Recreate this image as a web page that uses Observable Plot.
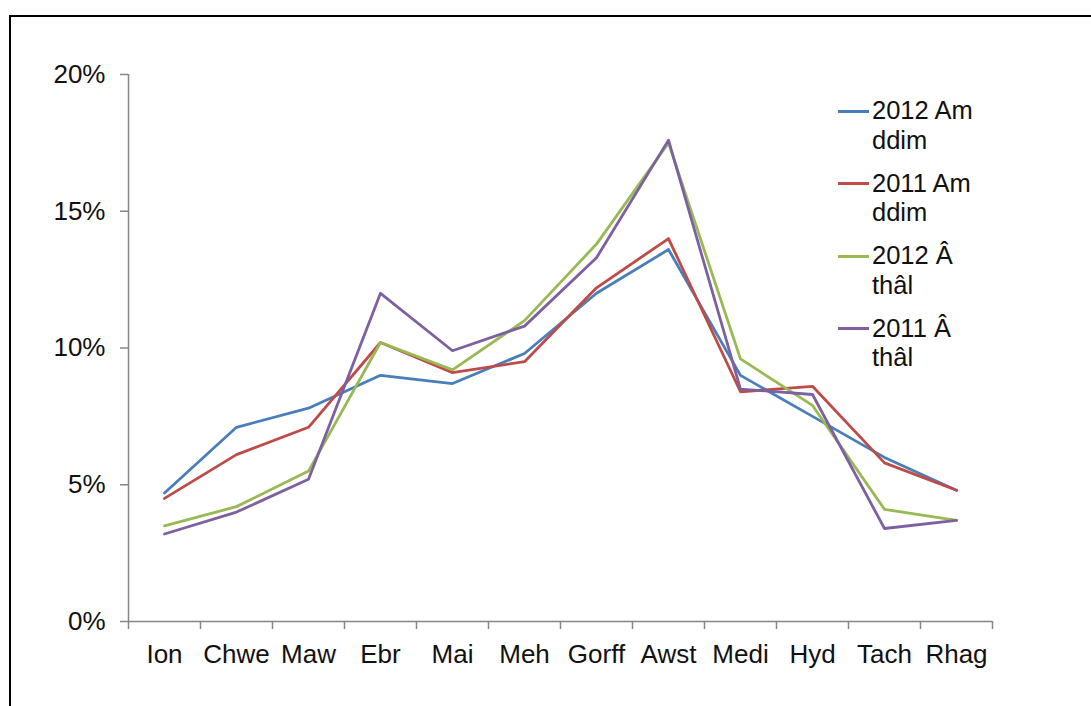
<!DOCTYPE html>
<html>
<head>
<meta charset="utf-8">
<script src="https://cdn.jsdelivr.net/npm/d3@7"></script>
<script src="https://cdn.jsdelivr.net/npm/@observablehq/plot@0.6"></script>
<style>
  html, body { margin: 0; padding: 0; background: #fff; }
  #wrap { position: relative; width: 1091px; height: 706px; overflow: hidden; font-family: "Liberation Sans", Arial, sans-serif; }
  #frame { position: absolute; left: 9px; top: 15px; width: 1100px; height: 720px; border-top: 2px solid #000; border-left: 2px solid #000; box-sizing: border-box; pointer-events: none; }
  #chart { position: absolute; left: 0; top: 0; }
  .leg { position: absolute; left: 838px; display: flex; align-items: flex-start; font-size: 25.5px; line-height: 29.5px; color: #111; }
  .leg .sw { width: 31px; height: 3px; margin-top: 13.5px; margin-right: 3px; flex: none; }
</style>
</head>
<body>
<div id="wrap">
  <div id="chart"></div>
  <div id="legend"></div>
  <div id="frame"></div>
</div>
<script>
const months = ["Ion", "Chwe", "Maw", "Ebr", "Mai", "Meh", "Gorff", "Awst", "Medi", "Hyd", "Tach", "Rhag"];
const seriesNames = ["2012 Am ddim", "2011 Am ddim", "2012 Â thâl", "2011 Â thâl"];
const legendLines = [["2012 Am", "ddim"], ["2011 Am", "ddim"], ["2012 Â", "thâl"], ["2011 Â", "thâl"]];
const colors = ["#4A7EBB", "#BE4B48", "#98B954", "#7D60A0"];
const am2012 = [4.7, 7.1, 7.8, 9.0, 8.7, 9.8, 12.0, 13.6, 9.0, 7.5, 6.0, 4.8];
const am2011 = [4.5, 6.1, 7.1, 10.2, 9.1, 9.5, 12.2, 14.0, 8.4, 8.6, 5.8, 4.8];
const thal2012 = [3.5, 4.2, 5.5, 10.2, 9.2, 11.0, 13.8, 17.5, 9.6, 7.9, 4.1, 3.7];
const thal2011 = [3.2, 4.0, 5.2, 12.0, 9.9, 10.8, 13.3, 17.6, 8.5, 8.3, 3.4, 3.7];
const yTicks = [0, 5, 10, 15, 20];

const seriesValues = [am2012, am2011, thal2012, thal2011];
const data = [];
seriesValues.forEach((vals, s) => vals.forEach((v, i) => data.push({series: seriesNames[s], i, value: v})));

const axisColor = "#868686";
const chart = Plot.plot({
  width: 1091,
  height: 706,
  marginLeft: 128,
  marginRight: 99,
  marginTop: 74,
  marginBottom: 85,
  style: {fontFamily: "'Liberation Sans', Arial, sans-serif", fontSize: "26px", color: "#111", background: "transparent", overflow: "visible"},
  x: {type: "linear", domain: [-0.5, months.length - 0.5], label: null},
  y: {domain: [0, 20], label: null},
  color: {domain: seriesNames, range: colors},
  marks: [
    Plot.ruleY([0], {stroke: axisColor, strokeWidth: 1.5}),
    Plot.ruleX([-0.5], {stroke: axisColor, strokeWidth: 1.5}),
    Plot.axisX(d3.range(-0.5, months.length, 1), {tickSize: 8, tickFormat: () => "", stroke: axisColor, strokeWidth: 1.5, label: null}),
    Plot.axisX(d3.range(months.length), {tickSize: 0, tickPadding: 23, tickFormat: i => months[i], fill: "#111", label: null}),
    Plot.axisY(yTicks, {tickSize: 8, tickPadding: 15, tickFormat: d => d + "%", stroke: axisColor, strokeWidth: 1.5, fill: "#111", label: null}),
    Plot.line(data, {x: "i", y: "value", z: "series", stroke: "series", strokeWidth: 2.8})
  ]
});
document.getElementById("chart").appendChild(chart);

const legend = document.getElementById("legend");
seriesNames.forEach((name, k) => {
  const row = document.createElement("div");
  row.className = "leg";
  row.style.top = (96 + k * 72.6) + "px";
  const sw = document.createElement("div");
  sw.className = "sw";
  sw.style.background = colors[k];
  const txt = document.createElement("div");
  txt.innerHTML = legendLines[k].join("<br>");
  row.appendChild(sw);
  row.appendChild(txt);
  legend.appendChild(row);
});
</script>
</body>
</html>
